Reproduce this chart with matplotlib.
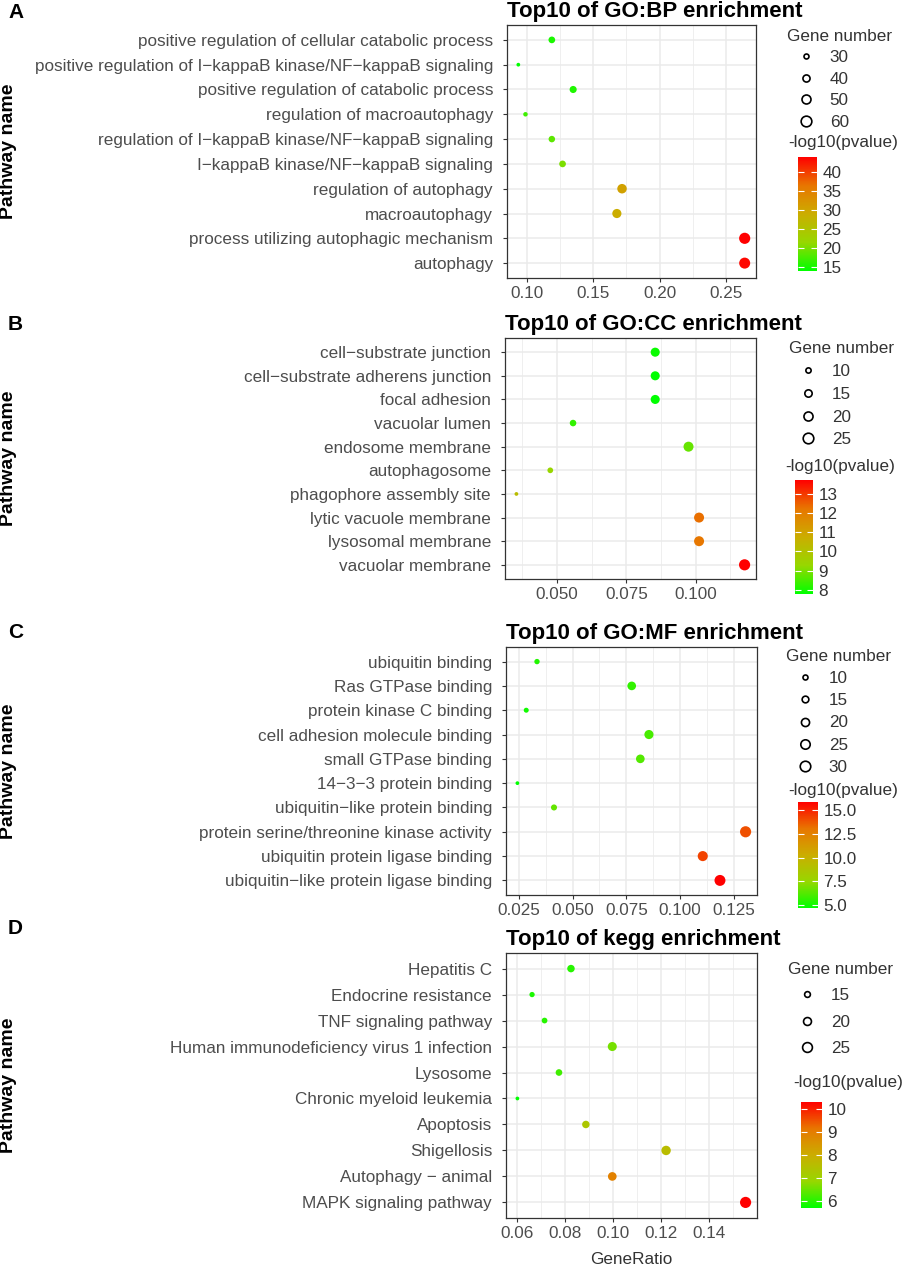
import numpy as np
import matplotlib
matplotlib.use("Agg")
import matplotlib.pyplot as plt
from matplotlib.colors import LinearSegmentedColormap
from matplotlib.lines import Line2D
from matplotlib.ticker import MultipleLocator, FormatStrFormatter

plt.rcParams['font.family'] = ['Liberation Sans', 'DejaVu Sans']

# ---- data (rows listed top to bottom) ----
bp_terms = ["positive regulation of cellular catabolic process",
            "positive regulation of I\u2212kappaB kinase/NF\u2212kappaB signaling",
            "positive regulation of catabolic process",
            "regulation of macroautophagy",
            "regulation of I\u2212kappaB kinase/NF\u2212kappaB signaling",
            "I\u2212kappaB kinase/NF\u2212kappaB signaling",
            "regulation of autophagy",
            "macroautophagy",
            "process utilizing autophagic mechanism",
            "autophagy"]
bp_ratio = [0.1187, 0.0934, 0.1348, 0.0988, 0.1187, 0.1268, 0.1717, 0.1678, 0.2643, 0.2643]
bp_count = [38, 25, 40, 28, 37, 38, 53, 51, 63, 62]
bp_logp = [15.2, 13.9, 15.5, 17.0, 18.5, 20.0, 30.5, 29.0, 43.9, 43.4]

cc_terms = ["cell\u2212substrate junction",
            "cell\u2212substrate adherens junction",
            "focal adhesion",
            "vacuolar lumen",
            "endosome membrane",
            "autophagosome",
            "phagophore assembly site",
            "lytic vacuole membrane",
            "lysosomal membrane",
            "vacuolar membrane"]
cc_ratio = [0.0854, 0.0854, 0.0854, 0.0558, 0.0974, 0.0476, 0.0354, 0.1012, 0.1012, 0.1176]
cc_count = [20, 20, 20, 13, 23, 11, 7, 23, 23, 27]
cc_logp = [7.9, 7.8, 7.8, 8.3, 8.8, 9.3, 10.2, 12.3, 12.2, 13.7]

mf_terms = ["ubiquitin binding",
            "Ras GTPase binding",
            "protein kinase C binding",
            "cell adhesion molecule binding",
            "small GTPase binding",
            "14\u22123\u22123 protein binding",
            "ubiquitin\u2212like protein binding",
            "protein serine/threonine kinase activity",
            "ubiquitin protein ligase binding",
            "ubiquitin\u2212like protein ligase binding"]
mf_ratio = [0.0335, 0.0775, 0.0285, 0.0855, 0.0815, 0.0244, 0.0414, 0.1304, 0.1105, 0.1185]
mf_count = [11, 22, 10, 24, 22, 7, 13, 33, 28, 32]
mf_logp = [5.3, 5.6, 5.0, 6.0, 6.2, 4.65, 6.5, 14.0, 14.3, 15.9]

kegg_terms = ["Hepatitis C",
              "Endocrine resistance",
              "TNF signaling pathway",
              "Human immunodeficiency virus 1 infection",
              "Lysosome",
              "Chronic myeloid leukemia",
              "Apoptosis",
              "Shigellosis",
              "Autophagy \u2212 animal",
              "MAPK signaling pathway"]
kegg_ratio = [0.0824, 0.0662, 0.0714, 0.0996, 0.0774, 0.0601, 0.0886, 0.1220, 0.0996, 0.1551]
kegg_count = [19, 14, 15, 23, 17, 11, 19, 24, 22, 29]
kegg_logp = [6.0, 5.9, 6.0, 6.6, 6.2, 5.7, 7.3, 7.6, 8.9, 10.3]

panels = [
    ("A", "Top10 of GO:BP enrichment", bp_terms, bp_ratio, bp_count, bp_logp,
     [30, 40, 50, 60], [15, 20, 25, 30, 35, 40], "%d", 0.05, "%.2f"),
    ("B", "Top10 of GO:CC enrichment", cc_terms, cc_ratio, cc_count, cc_logp,
     [10, 15, 20, 25], [8, 9, 10, 11, 12, 13], "%d", 0.025, "%.3f"),
    ("C", "Top10 of GO:MF enrichment", mf_terms, mf_ratio, mf_count, mf_logp,
     [10, 15, 20, 25, 30], [5, 7.5, 10, 12.5, 15], "%.1f", 0.025, "%.3f"),
    ("D", "Top10 of kegg enrichment", kegg_terms, kegg_ratio, kegg_count, kegg_logp,
     [15, 20, 25], [6, 7, 8, 9, 10], "%d", 0.02, "%.2f"),
]

# layout in pixels: plot panel, size legend anchor, legend row gap, colorbar title, colorbar
panel_box = [(507, 25, 756, 278), (505, 338, 756, 579), (506, 647, 757, 895), (506, 953, 757, 1218)]
letter_y = [13, 324, 632, 928]
size_leg_xy = [(775, 17), (777, 329), (774, 637), (776, 950)]
size_leg_gap = [0.38, 0.46, 0.42, 0.66]
cbar_title_xy = [(788, 143), (785, 467), (788, 790), (793, 1083)]
cbar_box = [(798, 157, 817, 271), (795, 480, 813, 594), (798, 802, 818, 908), (801, 1102, 822, 1208)]

# ggplot-like green -> red gradient (interpolated in Lab)
cmap = LinearSegmentedColormap.from_list("gr", ["#00FF00", "#97D700", "#CBAD00", "#E87600", "#FF0000"])

W, H = 906, 1266
fig = plt.figure(figsize=(W / 100, H / 100), dpi=100)


def fig_rect(x0, y0, x1, y1):
    return [x0 / W, 1 - y1 / H, (x1 - x0) / W, (y1 - y0) / H]


def dot_size(counts, cmin, cmax):
    # roughly ggplot2 scale_size(): diameter linear in sqrt(count)
    c = np.sqrt(np.asarray(counts, dtype=float))
    frac = (c - np.sqrt(cmin)) / (np.sqrt(cmax) - np.sqrt(cmin))
    size = 1.8 + 4.2 * frac
    d_px = 0.62 * (size * 2.845 + 0.945)
    return (d_px * 0.72) ** 2


for i, (letter, title, terms, ratio, count, logp, size_breaks, cb_ticks, cb_fmt, step, xfmt) in enumerate(panels):
    ax = fig.add_axes(fig_rect(*panel_box[i]))
    cmin, cmax = min(count), max(count)
    ypos = np.arange(len(terms))
    sc = ax.scatter(ratio, ypos, s=dot_size(count, cmin, cmax), c=logp, cmap=cmap,
                    vmin=min(logp), vmax=max(logp), edgecolors='none', zorder=3)

    ax.set_yticks(ypos)
    ax.set_yticklabels(terms)
    ax.set_ylim(len(terms) - 0.4, -0.6)
    ax.margins(x=0.05)
    ax.xaxis.set_major_locator(MultipleLocator(step))
    ax.xaxis.set_minor_locator(MultipleLocator(step / 2))
    ax.xaxis.set_major_formatter(FormatStrFormatter(xfmt))
    ax.grid(True, which='major', color='#EBEBEB', linewidth=1.1, zorder=0)
    ax.grid(True, which='minor', axis='x', color='#EBEBEB', linewidth=0.55, zorder=0)
    ax.set_axisbelow(True)
    for sp in ax.spines.values():
        sp.set_color('#333333')
        sp.set_linewidth(0.9)
    ax.tick_params(axis='both', which='major', length=3, width=0.8, color='#333333',
                   labelcolor='#4D4D4D', pad=3)
    ax.tick_params(axis='y', labelsize=12.3, pad=7)
    ax.tick_params(axis='x', labelsize=12.3)
    ax.tick_params(axis='x', which='minor', length=0)

    ax.set_title(title, loc='left', fontsize=16, fontweight='bold', pad=6)
    ax.set_ylabel("Pathway name", fontsize=14, fontweight='bold')
    ax.yaxis.set_label_coords(17 / W, 1 - (panel_box[i][1] + panel_box[i][3]) / 2 / H,
                              transform=fig.transFigure)
    if letter == "D":
        ax.set_xlabel("GeneRatio", fontsize=12.3, color='#333333', labelpad=8)

    fig.text(8 / W, 1 - letter_y[i] / H, letter, fontsize=15, fontweight='bold',
             va='center', ha='left')

    # size legend
    handles = [Line2D([], [], linestyle='none', marker='o', markerfacecolor='none',
                      markeredgecolor='black', markeredgewidth=1.2,
                      markersize=np.sqrt(dot_size([b], cmin, cmax)[0]))
               for b in size_breaks]
    lx, ly = size_leg_xy[i]
    leg = ax.legend(handles, [str(b) for b in size_breaks], title="Gene number",
                    loc='upper left', bbox_to_anchor=(lx / W, 1 - ly / H),
                    bbox_transform=fig.transFigure, frameon=False, fontsize=12.3,
                    title_fontsize=12.3, alignment='left', handlelength=2.2,
                    handletextpad=0.3, labelspacing=size_leg_gap[i], borderpad=0.2)
    for t in leg.get_texts():
        t.set_color('#333333')
    leg.get_title().set_color('#333333')

    # colour bar
    tx, ty = cbar_title_xy[i]
    fig.text(tx / W, 1 - ty / H, "-log10(pvalue)", fontsize=12.3, color='#333333',
             va='center', ha='left')
    cax = fig.add_axes(fig_rect(*cbar_box[i]))
    cb = fig.colorbar(sc, cax=cax)
    cb.outline.set_visible(False)
    cb.set_ticks(cb_ticks)
    cb.ax.yaxis.set_major_formatter(FormatStrFormatter(cb_fmt))
    cax.tick_params(left=True, right=True, labelleft=False, labelright=True,
                    direction='in', length=4, width=0.8, color='white',
                    labelsize=12.3, labelcolor='#333333', pad=4)

fig.savefig("out.png", dpi=100)
